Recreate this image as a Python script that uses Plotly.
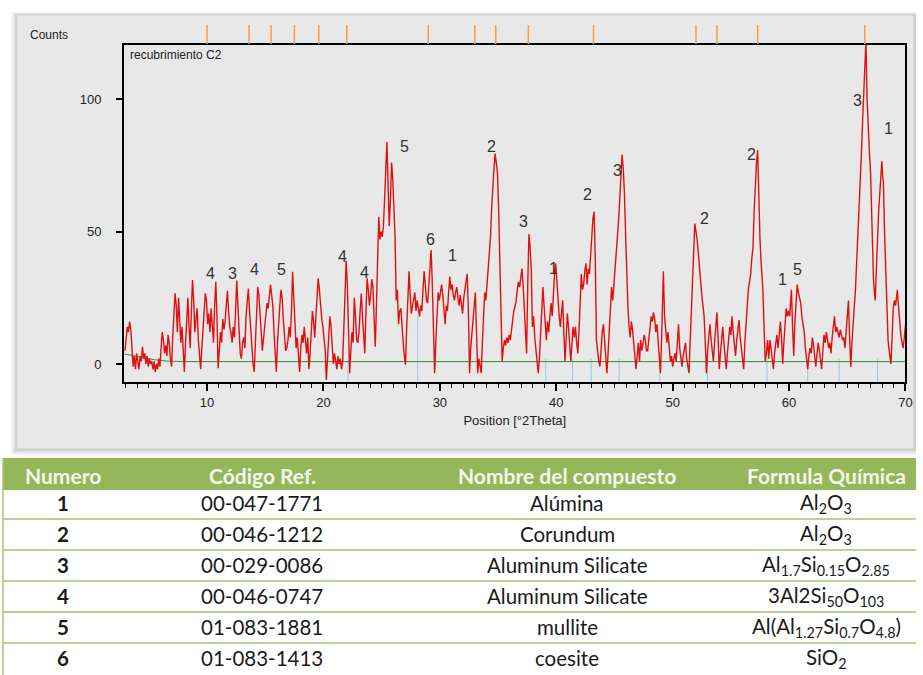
import plotly.graph_objects as go

W, H = 923, 675
W_EFF = 915.5  # horizontal pixel span observed in the rendered page

# ---------------- data ----------------
trace_pts = [
(2.95,5),(3.05,10),(3.15,14),(3.25,12),(3.35,16),(3.45,13),(3.55,6),(3.65,-1),(3.75,3),(3.85,-2),(3.95,4),(4.05,1),(4.15,-2),(4.25,3),(4.35,1),(4.45,6.5),(4.55,2),(4.65,4),(4.75,0),(4.85,3),(4.95,-1),(5.05,2),(5.15,0),(5.25,1),(5.35,-2),(5.45,1),(5.55,-3),(5.65,0),(5.75,-2),(5.85,2),(5.95,-1),(6.05,6),(6.15,12),(6.25,9),(6.35,4),(6.45,7),(6.55,3),(6.65,11),(6.75,8),(6.85,2),(6.95,-1),
(7.05,10),(7.15,20),(7.25,26.7),(7.35,22),(7.45,12),(7.55,25),(7.65,18),(7.75,8),(7.85,14),(7.95,3),(8.05,-3),(8.15,8),(8.25,18),(8.35,25),(8.45,14),(8.55,6),(8.65,20),(8.75,31.7),(8.85,24),(8.95,12),(9.05,17),(9.15,21),(9.25,9),(9.35,3),(9.45,-2),(9.55,6),(9.65,14),(9.75,20),(9.85,26.7),(9.95,24),(10.05,15),(10.15,19),(10.25,12),(10.35,21),(10.45,14),(10.55,8),(10.65,22),(10.75,31),(10.85,18),(10.95,-1.6),(11.05,5),(11.15,12),(11.25,8),(11.35,17),(11.45,13),(11.55,16),(11.65,22),(11.75,27.6),(11.85,20),(11.95,14),(12.05,12),(12.15,8),(12.25,14),(12.35,10),(12.45,20),(12.55,31.5),(12.65,22),(12.75,10),(12.85,4),(12.95,2),(13.05,8),(13.15,10),(13.25,6),(13.35,18),(13.45,24),(13.55,28.5),(13.65,20),(13.75,12),(13.85,5),(13.95,0),
(14.05,-3),(14.15,8),(14.25,19),(14.35,29),(14.45,26),(14.55,16),(14.65,12),(14.75,5),(14.85,9),(14.95,14),(15.05,19),(15.15,23),(15.25,21),(15.35,27),(15.45,30),(15.55,26),(15.65,22),(15.75,12),(15.85,4),(15.95,-3),(16.05,8),(16.15,18),(16.25,22),(16.35,28),(16.45,25),(16.55,17),(16.65,11),(16.75,5),(16.85,6),(16.95,9),(17.05,14),(17.15,10),(17.25,20),(17.35,34.8),(17.45,25),(17.55,12),(17.65,6),(17.75,10),(17.85,3),(17.95,-3),(18.05,6),(18.15,11),(18.25,8),(18.35,14),(18.45,9),(18.55,4),(18.65,10),(18.75,-2),(18.85,4),(18.95,12),(19.05,20),(19.15,16),(19.25,10),(19.35,18),(19.45,27),(19.55,32.3),(19.65,28),(19.75,22),(19.85,17),(19.95,14),(20.05,10),(20.15,5),(20.25,-6),(20.35,3),(20.45,11),(20.55,18),(20.65,14),(20.75,6),(20.85,0),(20.95,4),(21.05,1),(21.15,-2),(21.25,3),(21.35,0),(21.45,2),(21.55,-2),(21.65,1),(21.75,12),(21.85,28),(21.95,39),(22.05,30),(22.15,10),(22.25,-3.5),(22.35,5),(22.45,12),(22.55,8),(22.65,25),(22.75,18),(22.85,9),(22.95,8),(23.05,12),(23.15,20),(23.25,26.6),(23.35,18),(23.45,8),(23.55,4),(23.65,20),(23.75,32.3),(23.85,28),(23.95,22),(24.05,26),(24.15,32),(24.25,29),(24.35,18),(24.45,6.5),(24.55,22),
(24.65,40),(24.75,55.6),(24.85,47),(24.95,50),(25.05,48),(25.15,52),(25.25,62),(25.35,72),(25.45,83.8),(25.55,68),(25.65,52),(25.75,62),(25.85,76),(25.95,70),(26.05,57),(26.15,48),(26.25,24),(26.35,28),(26.45,15),(26.55,20),(26.65,21),(26.75,12),(26.85,8),(26.95,3),(27.05,-0.3),(27.15,14),(27.25,24),(27.35,35),(27.45,26),(27.55,19),(27.65,22),(27.75,25),(27.85,27),(27.95,20),(28.05,24),(28.15,21),(28.25,18),(28.35,22),(28.45,20),(28.55,28),(28.65,35),(28.75,30),(28.85,24),(28.95,23),(29.05,30),(29.15,38),(29.25,43),(29.35,30),(29.45,10),(29.55,-3.5),(29.65,8),(29.75,18),(29.85,27),(29.95,24),(30.05,28),(30.15,30),(30.25,26),(30.35,20),(30.45,15),(30.55,22),(30.65,20),(30.75,27),(30.85,33),(30.95,28),(31.05,30),(31.15,26),(31.25,24),(31.35,27),(31.45,29),(31.55,25),(31.65,22),(31.75,26),(31.85,21),(31.95,19),(32.05,25),(32.15,28),(32.25,30),(32.35,34),(32.45,20),(32.55,-3.5),(32.65,6),(32.75,12),(32.85,19),(32.95,22),(33.05,27),(33.15,14),(33.25,-3.5),(33.35,2),(33.45,-2),(33.55,-3.5),(33.65,8),(33.75,18),(33.85,27),(33.95,24),(34.05,30),(34.15,34.6),(34.25,40),(34.35,48),(34.45,59),(34.55,68),(34.65,74),(34.75,79.4),(34.85,76),(34.95,72),(35.05,58),(35.15,34),(35.25,18),(35.35,1),(35.45,6),(35.55,9),(35.65,7),(35.75,10),(35.85,8),(35.95,11),(36.05,9),
(36.15,13),(36.25,17),(36.35,20),(36.45,21.6),(36.55,24),(36.65,28),(36.75,31),(36.85,29),(36.95,33),(37.05,36),(37.15,30),(37.25,22),(37.35,10),(37.45,4),(37.55,30),(37.65,49),(37.75,44),(37.85,36),(37.95,14),(38.05,18),(38.15,10),(38.25,6),(38.35,2),(38.45,-3.5),(38.55,2),(38.65,10),(38.75,20),(38.85,29),(38.95,22),(39.05,14),(39.15,9),(39.25,16),(39.35,12),(39.45,18),(39.55,23),(39.65,18),(39.75,28),(39.85,34),(39.95,38),(40.05,30),(40.15,22),(40.25,18),(40.35,14),(40.45,20),(40.55,24),(40.65,12),(40.75,1),(40.85,10),(40.95,19),(41.05,14),(41.15,6),(41.25,1),(41.35,8),(41.45,14),(41.55,10),(41.65,14),(41.75,8),(41.85,4),(41.95,12),(42.05,22),(42.15,34),(42.25,28),(42.35,30),(42.45,35),(42.55,38),(42.65,30),(42.75,36),(42.85,34),(42.95,42),(43.05,50),(43.15,55),(43.25,57.5),(43.35,40),(43.45,9),(43.55,4),(43.65,1),(43.75,-1),(43.85,6),(43.95,12),(44.05,15),(44.15,8),(44.25,2),(44.35,-3.5),(44.45,4),(44.55,14),(44.65,22),(44.75,29),(44.85,24),(44.95,30),(45.05,36),(45.15,39),(45.25,46),(45.35,54),(45.45,62),(45.55,72),(45.65,79),(45.75,74),(45.85,65),(45.95,50),(46.05,34),(46.15,22),(46.25,14),(46.35,10),(46.45,16),(46.55,13),(46.65,8),(46.75,4),(46.85,-2),(46.95,3),(47.05,8),(47.15,1),(47.25,9),
(47.35,5),(47.45,8),(47.55,11),(47.65,9),(47.75,5),(47.85,5),(47.95,10),(48.05,14),(48.15,18),(48.25,16),(48.35,19.5),(48.45,17),(48.55,12),(48.65,15),(48.75,9),(48.85,6),(48.95,-3.5),(49.05,10),(49.15,25),(49.2,35),(49.3,18),(49.4,11),(49.5,8),(49.6,12),(49.7,4),(49.8,1),(49.9,3),(50.0,-1),(50.1,2),(50.2,4),(50.3,1),(50.4,8),(50.5,15),(50.6,6),(50.7,2),(50.8,-1),(50.9,3),(51.0,5),(51.1,8),(51.2,2),(51.3,-2),(51.4,-3.5),(51.5,8),(51.6,20),(51.7,29),(51.8,45),(51.9,53),(52.0,50),(52.1,47),(52.2,42),(52.3,36),(52.4,31),(52.5,26),(52.6,22),(52.7,18),(52.8,8),(52.9,-3.5),(53.0,5),(53.1,10),(53.2,15),(53.3,9),(53.4,4),(53.5,1),(53.6,8),(53.7,14),(53.8,19.5),(53.9,10),(54.0,-2),(54.1,4),(54.2,10),(54.3,14),(54.4,8),(54.5,3),(54.6,-2),(54.7,4),(54.8,9),(54.9,14),(55.0,11),(55.1,18),(55.2,12),(55.3,6),(55.4,3),(55.5,9),(55.6,12),(55.7,16.6),(55.8,10),(55.9,5),(56.0,2),(56.1,-2),(56.2,8),(56.3,16),(56.4,24),(56.5,28),(56.6,31),(56.7,34),(56.8,40),(56.9,44),(57.0,58),(57.1,69),(57.2,76),(57.3,80.7),(57.4,62),(57.5,47),(57.6,38),(57.7,30),(57.75,28),(57.85,14),(57.95,1),(58.05,4),(58.15,9),(58.25,2),
(58.35,9),(58.45,6),(58.55,1),(58.65,-2),(58.75,4),(58.85,8),(58.95,11),(59.05,6),(59.15,12),(59.25,16),(59.35,10),(59.45,0),(59.55,8),(59.65,14),(59.75,21),(59.85,18),(59.95,20),(60.05,18),(60.15,24),(60.2,28),(60.3,14),(60.4,3),(60.5,16),(60.6,24),(60.7,30),(60.8,27),(60.9,25),(61.0,23),(61.1,18),(61.2,15),(61.3,12),(61.4,6),(61.5,2),(61.6,-2),(61.7,3),(61.8,6),(61.9,4),(62.0,10),(62.1,7),(62.2,3),(62.3,-1),(62.4,4),(62.5,8),(62.6,5),(62.7,1),(62.8,-2),(62.9,5),(63.0,11),(63.1,8),(63.2,12),(63.3,9),(63.4,6),(63.5,8),(63.6,4),(63.7,10),(63.8,14),(63.9,18),(64.0,12),(64.1,14),(64.2,12),(64.3,10),(64.4,13),(64.5,11),(64.6,9),(64.7,10),(64.8,6),(64.9,12),(65.0,18),(65.1,24),(65.2,10),(65.3,-1),(65.4,8),(65.5,14),(65.6,19),(65.7,28),(65.8,38),(65.9,47),(66.0,58),(66.1,68),(66.2,78),(66.3,90),(66.4,100),(66.5,107),(66.6,122),(66.7,100),(66.8,88),(66.9,80),(67.0,72),(67.1,56),(67.15,43),(67.25,32),(67.35,26),(67.4,24),(67.5,36),(67.6,49),(67.7,58),(67.8,65),(67.9,72),(67.97,76.5),(68.05,70),(68.1,69),(68.2,50),(68.3,34),(68.4,20),(68.5,9),(68.6,5),(68.7,2),(68.75,0),(68.85,10),(68.95,21),(69.05,24),(69.15,22),(69.25,26),(69.3,28),(69.4,22),(69.5,16),(69.6,11),(69.7,8),(69.8,6),(69.9,10),(70.0,15),
]
two_theta = [p[0] for p in trace_pts]
counts = [p[1] for p in trace_pts]

background_theta = [2.87, 3.5, 4.5, 5.5, 6.5, 8.0, 70.0]
background_counts = [3.8, 3.2, 2.4, 1.6, 1.1, 0.9, 0.9]

# reference (orange) tick positions at top, °2θ
ref_top_theta = [10.0, 13.6, 15.5, 17.5, 19.6, 22.0, 29.0, 33.0, 34.8, 37.6, 43.2, 52.0, 53.8, 57.3, 66.5]
# light blue reference lines at bottom (°2θ, top height in counts)
ref_blue_theta = [22.1, 28.1, 39.1, 41.4, 43.0, 45.4, 48.9, 53.0, 58.1, 61.6, 64.3, 67.6]
ref_blue_top = [2, 18, 2, 2, 2, 2, 2, 2, 2, 2, 2, 2]

# peak phase labels
label_theta = [10.26, 12.15, 14.1, 16.4, 21.6, 23.5, 27.0, 29.2, 31.1, 34.4, 37.2, 39.8, 42.65, 45.3, 52.7, 56.8, 59.4, 60.7, 65.9, 68.5]
label_counts = [34, 34, 35.5, 35.5, 40.4, 34.7, 82, 47, 40.8, 82, 53.6, 36, 64, 73, 55, 79, 32, 35.5, 99.6, 89]
label_text = ["4", "3", "4", "5", "4", "4", "5", "6", "1", "2", "3", "1", "2", "3", "2", "2", "1", "5", "3", "1"]

x_ticks = [10, 20, 30, 40, 50, 60, 70]
y_ticks = [0, 50, 100]

# table
table_header = ["Numero", "Código Ref.", "Nombre del compuesto", "Formula Química"]
col_numero = ["1", "2", "3", "4", "5", "6"]
col_codigo = ["00-047-1771", "00-046-1212", "00-029-0086", "00-046-0747", "01-083-1881", "01-083-1413"]
col_nombre = ["Alúmina", "Corundum", "Aluminum Silicate", "Aluminum Silicate", "mullite", "coesite"]
col_formula = ["Al<sub>2</sub>O<sub>3</sub>", "Al<sub>2</sub>O<sub>3</sub>",
               "Al<sub>1.7</sub>Si<sub>0.15</sub>O<sub>2.85</sub>", "3Al2Si<sub>50</sub>O<sub>103</sub>",
               "Al(Al<sub>1.27</sub>Si<sub>0.7</sub>O<sub>4.8</sub>)", "SiO<sub>2</sub>"]

# ---------------- layout helpers ----------------
def px(x):
    return min(1.0, x / W_EFF)

def py(y):
    return 1 - y / H

PLOT_L, PLOT_R, PLOT_T, PLOT_B = 124, 905, 45, 382
XR = [2.87, 70.0]
YR = [-6.8, 120.4]

fig = go.Figure()

fig.add_trace(go.Scatter(x=background_theta, y=background_counts, mode="lines",
                         line=dict(color="#2f8f3a", width=1), hoverinfo="skip", showlegend=False))
fig.add_trace(go.Scatter(x=two_theta, y=counts, mode="lines",
                         line=dict(color="#e01010", width=1.4), showlegend=False))

shapes = []
# panel shadow + panel
for i, a in enumerate([0.05, 0.06, 0.08]):
    d = 6 - 2 * i
    shapes.append(dict(type="rect", xref="paper", yref="paper", layer="below",
                       x0=px(17 - d), x1=px(917 + d), y0=py(449 + d), y1=py(15 - d / 2),
                       fillcolor=f"rgba(0,0,0,{a})", line=dict(width=0)))
shapes.append(dict(type="rect", xref="paper", yref="paper", layer="below",
                   x0=px(17), x1=px(913), y0=py(449), y1=py(15),
                   fillcolor="#e8e8e8", line=dict(color="#d0d0d0", width=1)))

for t in ref_top_theta:
    shapes.append(dict(type="line", xref="x", yref="paper", x0=t, x1=t,
                       y0=py(44), y1=py(25), line=dict(color="#f2a14a", width=1.5)))
for t, h in zip(ref_blue_theta, ref_blue_top):
    shapes.append(dict(type="line", xref="x", yref="y", x0=t, x1=t, layer="below",
                       y0=YR[0], y1=h, line=dict(color="#9ec6da", width=1)))

# table graphics
shapes.append(dict(type="rect", xref="paper", yref="paper", x0=px(3), x1=px(923),
                   y0=py(490), y1=py(458), fillcolor="#93b75a", line=dict(width=0)))
for yy in [519, 550, 581, 612, 643]:
    shapes.append(dict(type="line", xref="paper", yref="paper", x0=px(3), x1=px(923),
                       y0=py(yy), y1=py(yy), line=dict(color="#a9c46f", width=1.5)))
shapes.append(dict(type="line", xref="paper", yref="paper", x0=px(3), x1=px(3),
                   y0=py(458), y1=py(675), line=dict(color="#a9c46f", width=1.5)))

annotations = []
annotations.append(dict(text="Counts", xref="paper", yref="paper", x=px(28), y=py(35),
                        xanchor="left", yanchor="middle", showarrow=False,
                        font=dict(family="Liberation Sans, Arial", size=12, color="#222")))
annotations.append(dict(text="recubrimiento C2", xref="paper", yref="paper", x=px(128), y=py(55),
                        xanchor="left", yanchor="middle", showarrow=False,
                        font=dict(family="Liberation Sans, Arial", size=12, color="#222")))
for t, c, s in zip(label_theta, label_counts, label_text):
    annotations.append(dict(text=s, x=t, y=c, xref="x", yref="y", showarrow=False,
                            xanchor="center", yanchor="middle",
                            font=dict(family="Liberation Sans, Arial", size=16, color="#333")))

# table text
tfont = "Lato, Carlito, Calibri, sans-serif"
col_x = [63, 262, 567, 826]
for cx, h in zip(col_x, table_header):
    annotations.append(dict(text=f"<b>{h}</b>", xref="paper", yref="paper", x=px(cx), y=py(475),
                            xanchor="center", yanchor="middle",
                            showarrow=False, font=dict(family=tfont, size=21, color="#f4f8ec")))
row_y = [503, 534, 565, 596, 627, 658]
for i, ry in enumerate(row_y):
    vals = [f"<b>{col_numero[i]}</b>", col_codigo[i], col_nombre[i], col_formula[i]]
    for cx, v in zip(col_x, vals):
        annotations.append(dict(text=v, xref="paper", yref="paper", x=px(cx), y=py(ry),
                                xanchor="center", yanchor="middle",
                                showarrow=False, font=dict(family=tfont, size=20.5, color="#1a1a1a")))

axis_font = dict(family="Liberation Sans, Arial", size=13, color="#222")
fig.update_layout(
    width=W, height=H, margin=dict(l=0, r=0, t=0, b=0), autosize=False,
    paper_bgcolor="white", plot_bgcolor="rgba(0,0,0,0)",
    shapes=shapes, annotations=annotations, showlegend=False,
    xaxis=dict(domain=[px(PLOT_L), px(PLOT_R)], range=XR, tickvals=x_ticks,
               ticks="outside", ticklen=7, tickwidth=1.5, tickcolor="black",
               minor=dict(dtick=1, ticks="outside", ticklen=4, tickcolor="black", tickwidth=1),
               showline=True, mirror=True, linecolor="black", linewidth=2,
               showgrid=False, zeroline=False, tickfont=axis_font,
               title=dict(text="Position [°2Theta]", font=axis_font, standoff=7)),
    yaxis=dict(domain=[py(PLOT_B), py(PLOT_T)], range=YR, tickvals=y_ticks,
               ticks="outside", ticklen=6, tickwidth=1.5, tickcolor="black",
               showline=True, mirror=True, linecolor="black", linewidth=2,
               showgrid=False, zeroline=False, tickfont=axis_font, ticklabelstandoff=12),
)

fig.write_html("out.html", config={"responsive": False})
